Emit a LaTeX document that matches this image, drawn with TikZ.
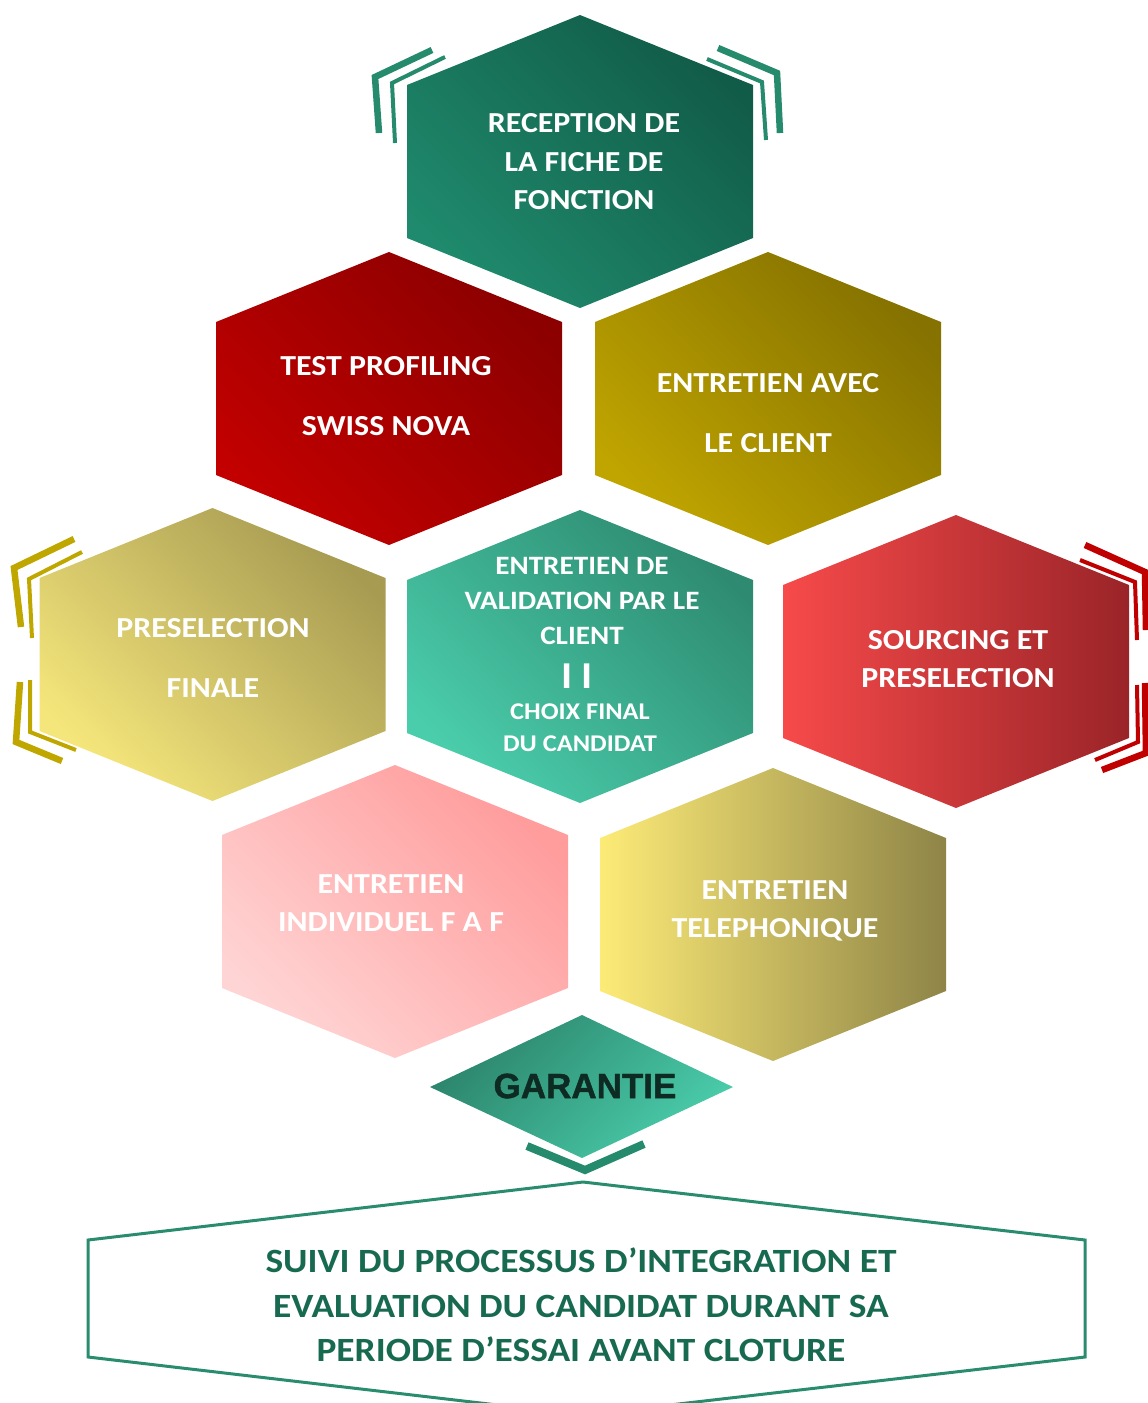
\documentclass[tikz,border=0pt]{standalone}
\usepackage{fontspec}
\setmainfont{Carlito}
\newfontfamily\wide[FakeStretch=1.1]{Carlito}
\newfontfamily\garfont[FakeBold=1.2]{Liberation Sans}
\definecolor{tealA}{HTML}{1F8A6D}
\definecolor{tealB}{HTML}{115C48}
\definecolor{redA}{HTML}{C20000}
\definecolor{redB}{HTML}{8C0000}
\definecolor{oliveA}{HTML}{C0A500}
\definecolor{oliveB}{HTML}{857200}
\definecolor{paleA}{HTML}{F5E67B}
\definecolor{paleB}{HTML}{A79B52}
\definecolor{mintA}{HTML}{4ACDAB}
\definecolor{mintB}{HTML}{2E8B71}
\definecolor{coralA}{HTML}{F74A4A}
\definecolor{coralB}{HTML}{9A2428}
\definecolor{pinkA}{HTML}{FFD4D4}
\definecolor{pinkB}{HTML}{FF9C9C}
\definecolor{yelA}{HTML}{FDEB77}
\definecolor{yelB}{HTML}{8E8447}
\definecolor{chevteal}{HTML}{268A6C}
\definecolor{chevyel}{HTML}{C0A700}
\definecolor{chevred}{HTML}{C00000}
\definecolor{gartext}{HTML}{0D2B22}
\definecolor{suivi}{HTML}{17694F}
\definecolor{outline}{HTML}{2A8C6F}
\begin{document}
\begin{tikzpicture}[x=1pt,y=-1pt,
  hexa/.style 2 args={insert path={(#1,#2) -- ++(173,70) -- ++(0,153) -- ++(-173,70) -- ++(-173,-70) -- ++(0,-153) -- cycle}},
  diag/.style 2 args={top color=#2, bottom color=#1, shading angle=-45},
  horiz/.style 2 args={top color=#2, bottom color=#1, shading angle=-90},
  hextext/.style={text=white,font=\wide\bfseries\fontsize{29}{38.5}\selectfont,align=center,inner sep=0pt},
  widetext/.style={hextext,font=\wide\bfseries\fontsize{29}{60}\selectfont},
  midtext/.style={hextext,font=\wide\bfseries\fontsize{26.5}{35}\selectfont},
  chevthick/.style={line width=6.5pt,line cap=butt,line join=miter},
  chevthin/.style={line width=4pt,line cap=butt,line join=miter}]
\useasboundingbox (0,0) rectangle (1148,1403);
\clip (0,0) rectangle (1148,1403);

% hexagons
\path[diag={tealA}{tealB}, hexa={580}{15}];
\path[diag={redA}{redB}, hexa={389}{252}];
\path[diag={oliveA}{oliveB}, hexa={768}{252}];
\path[diag={paleA}{paleB}, hexa={212.5}{508}];
\path[diag={mintA}{mintB}, hexa={580}{510}];
\path[horiz={coralA}{coralB}, hexa={956}{515}];
\path[diag={pinkA}{pinkB}, hexa={395}{765}];
\path[horiz={yelA}{yelB}, hexa={773}{768}];

% diamond
\path[top color=mintB!95!black, bottom color=mintA, shading angle=45]
  (582,1015) -- (733,1087) -- (582,1158) -- (430,1087) -- cycle;

% chevrons around top hexagon
\draw[chevteal,chevthick] (432,50) -- (375,77) -- (379,133);
\draw[chevteal,chevthin] (445,57) -- (392,83) -- (395,143);
\draw[chevteal,chevthick] (718,48) -- (777,73) -- (780,133);
\draw[chevteal,chevthin] (707,59) -- (762,82) -- (766,140);

% chevrons left (yellow)
\draw[chevyel,chevthick] (74,539) -- (14,568) -- (21,627);
\draw[chevyel,chevthin] (82,552) -- (29,579) -- (32,638);
\draw[chevyel,chevthin] (30,680) -- (30,732) -- (76,750);
\draw[chevyel,chevthick] (20,682) -- (16,742) -- (62,761);

% chevrons right (red)
\draw[chevred,chevthick] (1085,545) -- (1145,572) -- (1146,630);
\draw[chevred,chevthin] (1080,560) -- (1135,582) -- (1137,640);
\draw[chevred,chevthin] (1137,685) -- (1138,742) -- (1095,760);
\draw[chevred,chevthick] (1145,683) -- (1146,753) -- (1102,770);

% chevron under diamond
\draw[chevteal,line width=8pt,line join=miter] (527,1146) -- (585,1170) -- (644,1144);

% bottom outline
\draw[outline,line width=3pt,line join=miter]
  (583,1182) -- (1085,1240) -- (1085,1357) -- (583,1415) -- (88,1357) -- (88,1240) -- cycle;

% texts
\node[hextext] (reception) at (584,162) {RECEPTION DE\\LA FICHE DE\\FONCTION};
\node[widetext] (profiling) at (386,396) {TEST PROFILING\\SWISS NOVA};
\node[widetext] (client) at (768,413) {ENTRETIEN AVEC\\LE CLIENT};
\node[widetext] (finale) at (213,658) {PRESELECTION\\FINALE};
\node[hextext] (sourcing) at (958,659) {SOURCING ET\\PRESELECTION};
\node[hextext] (individuel) at (391,903) {ENTRETIEN\\INDIVIDUEL F A F};
\node[hextext] (telephonique) at (775,911) {ENTRETIEN\\TELEPHONIQUE};
\node[midtext] (validation) at (582,601) {ENTRETIEN DE\\VALIDATION PAR LE\\CLIENT};
\node[hextext,font=\wide\bfseries\fontsize{38}{38}\selectfont] (bars) at (577,676) {I I};
\node[midtext,font=\wide\bfseries\fontsize{24}{32}\selectfont] (choix) at (580,728) {CHOIX FINAL\\DU CANDIDAT};
\node[font=\garfont\bfseries\fontsize{35}{35}\selectfont,text=gartext,inner sep=0pt] (garantie) at (585,1086) {GARANTIE};
\node[font=\wide\bfseries\fontsize{34}{44.5}\selectfont,text=suivi,align=center,inner sep=0pt] (suivi) at (581,1305)
  {SUIVI DU PROCESSUS D’INTEGRATION ET\\EVALUATION DU CANDIDAT DURANT SA\\PERIODE D’ESSAI AVANT CLOTURE};
\end{tikzpicture}
\end{document}
